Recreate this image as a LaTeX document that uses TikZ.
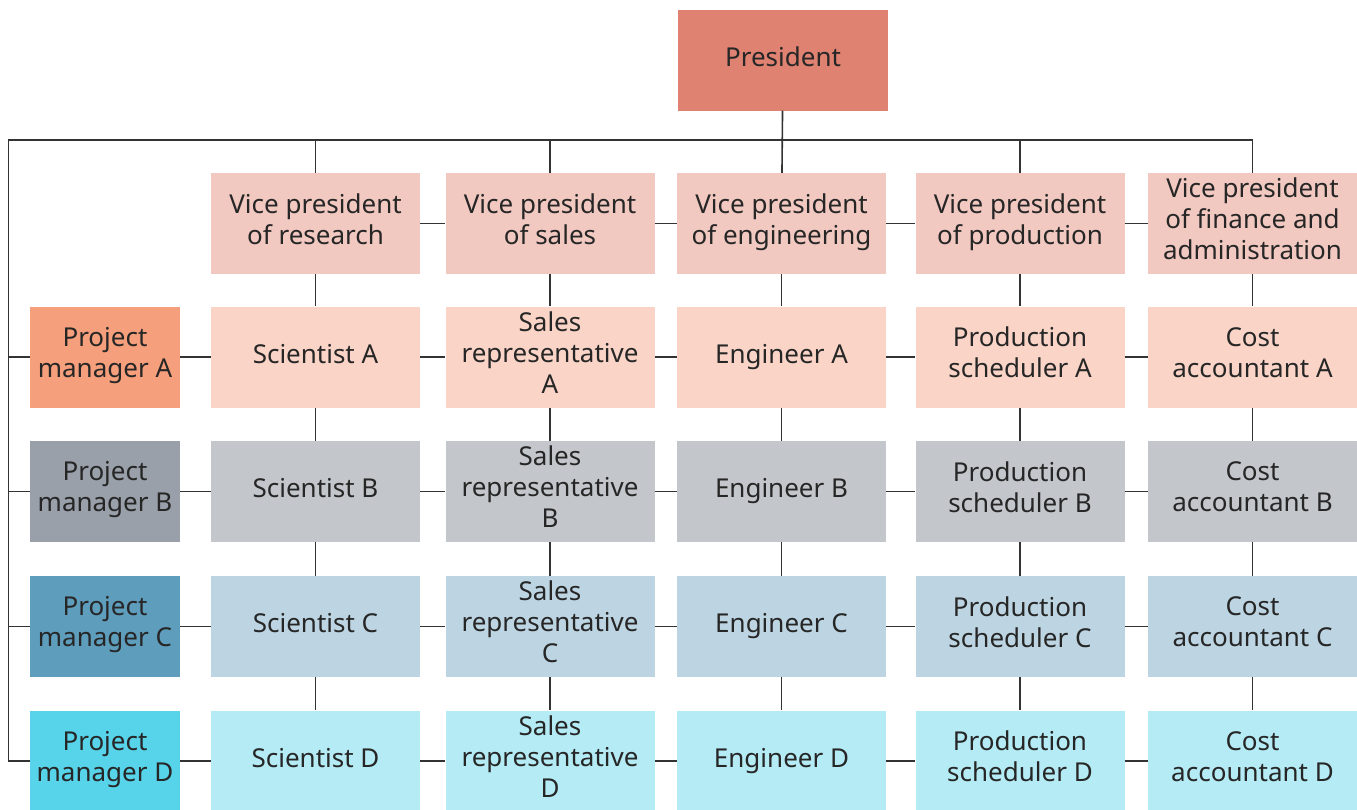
\documentclass[tikz,border=0pt]{standalone}
\usepackage{fontspec}
\setmainfont{Noto Sans}
\definecolor{txt}{HTML}{262626}
\definecolor{linec}{HTML}{333333}
\definecolor{presc}{HTML}{E08272}
\definecolor{vpc}{HTML}{F2C9C1}
\definecolor{rowA}{HTML}{FAD5C7}
\definecolor{pmAc}{HTML}{F69F7C}
\definecolor{rowB}{HTML}{C3C7CB}
\definecolor{pmBc}{HTML}{99A0A9}
\definecolor{rowC}{HTML}{BDD5E2}
\definecolor{pmCc}{HTML}{5F9DBD}
\definecolor{rowD}{HTML}{B4EBF5}
\definecolor{pmDc}{HTML}{57D4E9}
\begin{document}
\begin{tikzpicture}[x=1pt,y=-1pt,
  box/.style={rectangle, inner sep=0pt, align=center, text=txt,
    font=\fontsize{26}{31}\selectfont, minimum height=101pt,
    execute at begin node=\strut, execute at end node=\strut},
  colbox/.style={box, minimum width=209pt},
  pmbox/.style={box, minimum width=150pt},
  link/.style={draw=linec, line width=1.6pt}]
\useasboundingbox (0,0) rectangle (1357,809);
% president
\node[box, fill=presc, minimum width=210pt] (pres) at (783,60) {President};
% vice presidents
\node[colbox, fill=vpc] (vp1) at (315.5,223.5) {Vice president\\of research};
\node[colbox, fill=vpc] (vp2) at (550,223.5) {Vice president\\of sales};
\node[colbox, fill=vpc] (vp3) at (781.5,223.5) {Vice president\\of engineering};
\node[colbox, fill=vpc] (vp4) at (1020,223.5) {Vice president\\of production};
\node[colbox, fill=vpc] (vp5) at (1252.5,223.5) {Vice president\\of finance and\\administration};
% row A
\node[pmbox, fill=pmAc] (pmA) at (105,357) {Project\\manager A};
\node[colbox, fill=rowA] (a1) at (315.5,357) {Scientist A};
\node[colbox, fill=rowA] (a2) at (550,357) {Sales\\representative\\A};
\node[colbox, fill=rowA] (a3) at (781.5,357) {Engineer A};
\node[colbox, fill=rowA] (a4) at (1020,357) {Production\\scheduler A};
\node[colbox, fill=rowA] (a5) at (1252.5,357) {Cost\\accountant A};
% row B
\node[pmbox, fill=pmBc] (pmB) at (105,491.5) {Project\\manager B};
\node[colbox, fill=rowB] (b1) at (315.5,491.5) {Scientist B};
\node[colbox, fill=rowB] (b2) at (550,491.5) {Sales\\representative\\B};
\node[colbox, fill=rowB] (b3) at (781.5,491.5) {Engineer B};
\node[colbox, fill=rowB] (b4) at (1020,491.5) {Production\\scheduler B};
\node[colbox, fill=rowB] (b5) at (1252.5,491.5) {Cost\\accountant B};
% row C
\node[pmbox, fill=pmCc] (pmC) at (105,626.5) {Project\\manager C};
\node[colbox, fill=rowC] (c1) at (315.5,626.5) {Scientist C};
\node[colbox, fill=rowC] (c2) at (550,626.5) {Sales\\representative\\C};
\node[colbox, fill=rowC] (c3) at (781.5,626.5) {Engineer C};
\node[colbox, fill=rowC] (c4) at (1020,626.5) {Production\\scheduler C};
\node[colbox, fill=rowC] (c5) at (1252.5,626.5) {Cost\\accountant C};
% row D
\node[pmbox, fill=pmDc] (pmD) at (105,761) {Project\\manager D};
\node[colbox, fill=rowD] (d1) at (315.5,761) {Scientist D};
\node[colbox, fill=rowD] (d2) at (550,761) {Sales\\representative\\D};
\node[colbox, fill=rowD] (d3) at (781.5,761) {Engineer D};
\node[colbox, fill=rowD] (d4) at (1020,761) {Production\\scheduler D};
\node[colbox, fill=rowD] (d5) at (1252.5,761) {Cost\\accountant D};
% connectors
\coordinate (tl) at (8.5,140);
\draw[link] (pres) -- (vp3);
\draw[link] (pmD.west) -| (tl) -| (vp5.north);
\foreach \v in {vp1,vp2,vp4} \draw[link] (\v.north) -- (\v.north |- tl);
\foreach \p in {pmA,pmB,pmC} \draw[link] (\p.west) -- (\p.west -| tl);
\draw[link] (vp1) -- (vp2) -- (vp3) -- (vp4) -- (vp5);
\draw[link] (pmA) -- (a1) -- (a2) -- (a3) -- (a4) -- (a5);
\draw[link] (pmB) -- (b1) -- (b2) -- (b3) -- (b4) -- (b5);
\draw[link] (pmC) -- (c1) -- (c2) -- (c3) -- (c4) -- (c5);
\draw[link] (pmD) -- (d1) -- (d2) -- (d3) -- (d4) -- (d5);
\foreach \k in {1,...,5} \draw[link] (vp\k) -- (a\k) -- (b\k) -- (c\k) -- (d\k);
\end{tikzpicture}
\end{document}
